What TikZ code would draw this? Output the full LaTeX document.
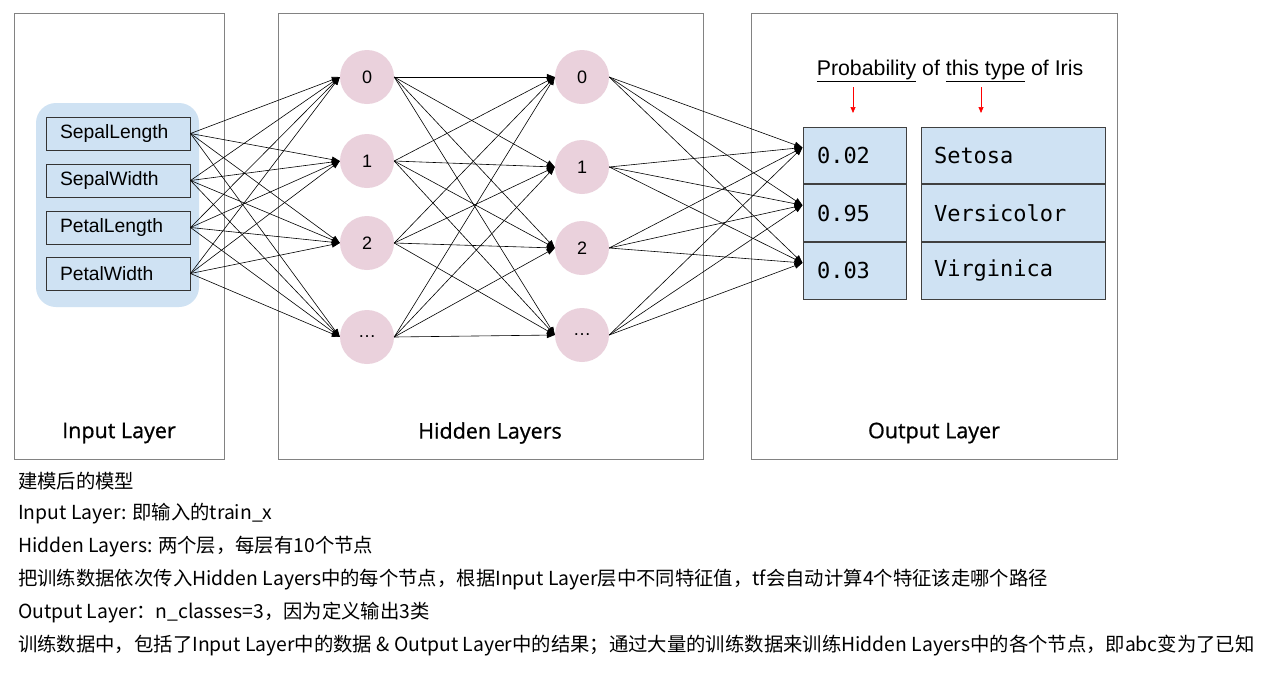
\documentclass[tikz,border=0pt]{standalone}
\usepackage{fontspec}
\setmainfont{Liberation Sans}
\setmonofont{DejaVu Sans Mono}
\newfontfamily\cjk{Noto Sans CJK SC}
\newfontfamily\labelfont[FakeBold=0.8]{Open Sans}
\usetikzlibrary{positioning}
\usetikzlibrary{arrows.meta}

\definecolor{inblue}{RGB}{207,226,243}
\definecolor{nodepink}{RGB}{234,209,220}
\definecolor{panelgray}{RGB}{130,130,130}

\tikzset{
  panel/.style={draw=panelgray, line width=0.8pt},
  panellabel/.style={font=\labelfont\fontsize{21.5}{24}\selectfont},
  feature/.style={draw=black!80, line width=1pt, minimum height=33pt,
    text width=116pt, inner xsep=14pt, inner ysep=0pt, align=left,
    font=\fontsize{19.3}{21}\selectfont},
  neuron/.style={circle, fill=nodepink, minimum size=54pt, inner sep=0pt,
    font=\fontsize{18}{20}\selectfont},
  probcell/.style={draw=black!75, line width=1pt, fill=inblue, minimum height=56.7pt,
    text width=75pt, inner xsep=14pt, inner ysep=0pt, align=left,
    font=\ttfamily\fontsize{22}{24}\selectfont},
  classcell/.style={probcell, text width=158pt, inner xsep=13pt},
  link/.style={line width=0.6pt, -{Triangle[length=8pt,width=6pt]}},
  hint/.style={red, line width=0.7pt, -{Triangle[length=6pt,width=5pt]}},
  note/.style={anchor=west, inner sep=0pt, font=\cjk\fontsize{19.35}{21}\selectfont},
}

\begin{document}
\begin{tikzpicture}[x=1pt, y=-1pt]
\fill[white] (0,0) rectangle (1273,678);
\useasboundingbox (0,0) rectangle (1273,678);

% layer panels
\draw[panel] (14,13) rectangle (224,459);
\draw[panel] (278,13) rectangle (703,459);
\draw[panel] (751,13) rectangle (1117,459);
\node[panellabel] (inlabel) at (119,433) {Input Layer};
\node[panellabel] (hidlabel) at (490,433) {Hidden Layers};
\node[panellabel] (outlabel) at (934,433) {Output Layer};

% input features
\fill[inblue, rounded corners=20pt] (36,103) rectangle (199,307);
\node[feature] (f1) at (118,133.5) {SepalLength};
\node[feature] (f2) at (118,180.5) {SepalWidth};
\node[feature] (f3) at (118,227.5) {PetalLength};
\node[feature] (f4) at (118,273.5) {PetalWidth};

% hidden neurons
\node[neuron] (a1) at (367,77) {0};
\node[neuron] (a2) at (367,161) {1};
\node[neuron] (a3) at (367,243) {2};
\node[neuron] (a4) at (367,337) {…};
\node[neuron] (b1) at (582,77) {0};
\node[neuron] (b2) at (582,167) {1};
\node[neuron] (b3) at (582,248) {2};
\node[neuron] (b4) at (582,335) {…};

% output table
\node[probcell] (p1) at (854.5,155.5) {0.02};
\node[probcell, below=0pt of p1] (p2) {0.95};
\node[probcell, below=0pt of p2] (p3) {0.03};
\node[classcell] (c1) at (1013,155.5) {Setosa};
\node[classcell, below=0pt of c1] (c2) {Versicolor};
\node[classcell, below=0pt of c2] (c3) {Virginica};

\node[font=\fontsize{21.3}{23}\selectfont, inner sep=0pt] (probtext) at (950,71)
  {\underline{Probability} of \underline{this type} of Iris};
\coordinate (pa) at (853,87);
\coordinate (pb) at (981,87);
\draw[hint] (pa) -- ++(0,26);
\draw[hint] (pb) -- ++(0,26);

% connections
\foreach \i in {1,...,4}
  \foreach \j in {1,...,4}
    \draw[link] (f\i.east) -- (a\j.west);
\foreach \i in {1,...,4}
  \foreach \j in {1,...,4}
    \draw[link] (a\i.east) -- (b\j.west);
\foreach \i in {1,...,4}
  \foreach \j in {1,...,3}
    \draw[link] (b\i.east) -- ([yshift=8pt]p\j.west);

% notes
\foreach \t [count=\i] in {
  {建模后的模型},
  {Input Layer: 即输入的train\_x},
  {Hidden Layers: 两个层，每层有10个节点},
  {把训练数据依次传入Hidden Layers中的每个节点，根据Input Layer层中不同特征值，tf会自动计算4个特征该走哪个路径},
  {Output Layer：n\_classes=3，因为定义输出3类},
  {训练数据中，包括了Input Layer中的数据 \& Output Layer中的结果；通过大量的训练数据来训练Hidden Layers中的各个节点，即abc变为了已知}}
  \node[note] (note\i) at (18,448+33*\i) {\t};
\end{tikzpicture}
\end{document}
